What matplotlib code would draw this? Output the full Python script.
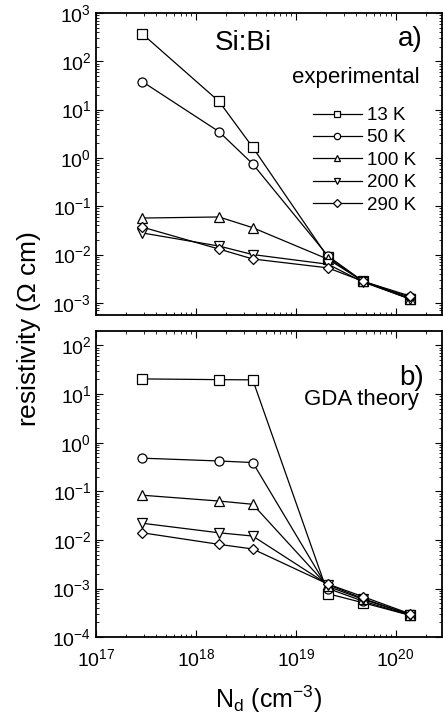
import numpy as np
import matplotlib
matplotlib.use("Agg")
import matplotlib.pyplot as plt
from matplotlib.ticker import LogLocator, NullFormatter, LogFormatterMathtext

plt.rcParams['font.family'] = ['Liberation Sans', 'DejaVu Sans']
plt.rcParams['mathtext.fontset'] = 'custom'
plt.rcParams['mathtext.rm'] = 'Liberation Sans'
plt.rcParams['mathtext.it'] = 'Liberation Sans:italic'

# donor concentration (cm^-3)
nd = [2.9e17, 1.7e18, 3.7e18, 2.1e19, 4.7e19, 1.4e20]
temps = ["13 K", "50 K", "100 K", "200 K", "290 K"]
markers = ["s", "o", "^", "v", "D"]

# a) experimental resistivity (Ohm cm)
exp_13 = [370, 14.8, 1.66, 0.0087, 0.0028, 0.0012]
exp_50 = [38, 3.5, 0.75, 0.0093, 0.0028, 0.0013]
exp_100 = [0.057, 0.060, 0.036, 0.0080, 0.0028, 0.0012]
exp_200 = [0.028, 0.015, 0.010, 0.0063, 0.0027, 0.0012]
exp_290 = [0.037, 0.013, 0.0081, 0.0053, 0.0028, 0.00138]

# b) GDA theory
gda_13 = [20.5, 19.8, 19.6, 0.00078, 0.00051, 0.00028]
gda_50 = [0.48, 0.42, 0.39, 0.0010, 0.00055, 0.00028]
gda_100 = [0.083, 0.063, 0.054, 0.0011, 0.00060, 0.00029]
gda_200 = [0.022, 0.014, 0.012, 0.0012, 0.00062, 0.00029]
gda_290 = [0.014, 0.0081, 0.0065, 0.00123, 0.00068, 0.00030]

exp_all = [exp_13, exp_50, exp_100, exp_200, exp_290]
gda_all = [gda_13, gda_50, gda_100, gda_200, gda_290]

fig = plt.figure(figsize=(4.43, 7.24), dpi=100)
ax1 = fig.add_axes([0.217, 0.565, 0.78, 0.417])
ax2 = fig.add_axes([0.217, 0.120, 0.78, 0.423])


def style_axis(ax):
    ax.set_xscale("log")
    ax.set_yscale("log")
    ax.set_xlim(1e17, 10**20.46)
    ax.tick_params(which="both", direction="in", top=True, right=True, labelsize=14)
    ax.tick_params(which="major", length=5)
    ax.tick_params(which="minor", length=2.5)
    ax.xaxis.set_minor_locator(LogLocator(base=10, subs=np.arange(2, 10), numticks=20))
    ax.yaxis.set_minor_locator(LogLocator(base=10, subs=np.arange(2, 10), numticks=20))
    ax.xaxis.set_minor_formatter(NullFormatter())
    ax.yaxis.set_minor_formatter(NullFormatter())
    ax.yaxis.set_major_locator(LogLocator(base=10, numticks=20))
    ax.yaxis.set_major_formatter(LogFormatterMathtext())
    for s in ax.spines.values():
        s.set_linewidth(1.3)


for ax, data in [(ax1, exp_all), (ax2, gda_all)]:
    style_axis(ax)
    for vals, m, lab in zip(data, markers, temps):
        ms = 6.5 if m != "D" else 5.5
        ax.plot(nd, vals, color="black", lw=0.9, marker=m, ms=ms,
                mfc="white", mec="black", mew=0.9, label=lab)

ax1.set_ylim(10**-3.25, 10**3.0)
ax1.set_xticklabels([])
ax2.set_ylim(1e-4, 10**2.3)
ax2.xaxis.set_major_formatter(LogFormatterMathtext())
ax2.tick_params(axis="x", pad=8)

ax1.text(0.425, 0.90, "Si:Bi", transform=ax1.transAxes, fontsize=20, ha="center", va="center")
ax1.text(0.945, 0.915, "a)", transform=ax1.transAxes, fontsize=20, ha="right", va="center")
ax1.text(0.935, 0.788, "experimental", transform=ax1.transAxes, fontsize=16, ha="right", va="center")

ax2.text(0.95, 0.846, "b)", transform=ax2.transAxes, fontsize=20, ha="right", va="center")
ax2.text(0.935, 0.775, "GDA theory", transform=ax2.transAxes, fontsize=16, ha="right", va="center")

handles, labels = ax1.get_legend_handles_labels()
leg = ax1.legend(handles, labels, loc="upper right", bbox_to_anchor=(0.955, 0.72),
                 frameon=False, fontsize=13.5, handlelength=2.6, handletextpad=0.3,
                 labelspacing=0.28, markerscale=0.7, borderpad=0.0)

fig.text(0.066, 0.545, "resistivity ($\\Omega$ cm)", rotation=90, fontsize=19,
         ha="center", va="center")
ax2.set_xlabel("N$_\\mathrm{d}$ (cm$^{-3}$)", fontsize=18, labelpad=10)

fig.savefig("out.png", dpi=100)
